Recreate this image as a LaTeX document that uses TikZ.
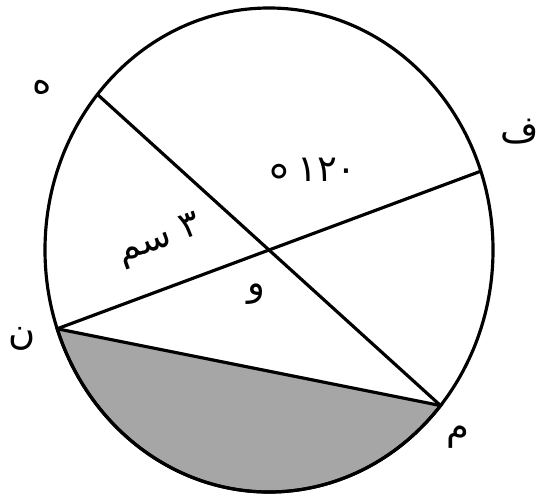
\documentclass[tikz,border=0pt]{standalone}
\usepackage{fontspec}
\newfontfamily\arabicfont[Script=Arabic]{DejaVu Sans}
\TeXXeTstate=1
\begin{document}
\begin{tikzpicture}[x=0.02cm,y=0.02cm,line width=1.8pt]
\tikzset{lbl/.style={font=\arabicfont\fontsize{21}{24}\selectfont, inner sep=0pt}}
\useasboundingbox (0,0) rectangle (554,499);
\coordinate (o) at (269,249);
\coordinate (h) at (97.4,404.6);
\coordinate (m) at (440.6,93.4);
\coordinate (f) at (480.8,327.8);
\coordinate (n) at (57.2,170.2);
\filldraw[fill=black!35] (n) arc[start angle=199, end angle=320, x radius=224, y radius=242] -- cycle;
\draw (o) ellipse[x radius=224, y radius=242];
\draw (h)--(m);
\draw (f)--(n);
\node[lbl] (lh) at (42,412) {\beginR ه\endR};
\node[lbl] (lf) at (520,367) {\beginR ف\endR};
\node[lbl] (ln) at (22,160) {\beginR ن\endR};
\node[lbl] (lm) at (458,62) {\beginR م\endR};
\node[lbl] (lo) at (256,205) {\beginR و\endR};
\node[lbl] (ang) at (312,320) {\raisebox{-0.5em}{\fontsize{27}{27}\selectfont°}\,۱۲۰};
\node[lbl, rotate=20] (len) at (160,258) {\beginR ۳ سم\endR};
\end{tikzpicture}
\end{document}
